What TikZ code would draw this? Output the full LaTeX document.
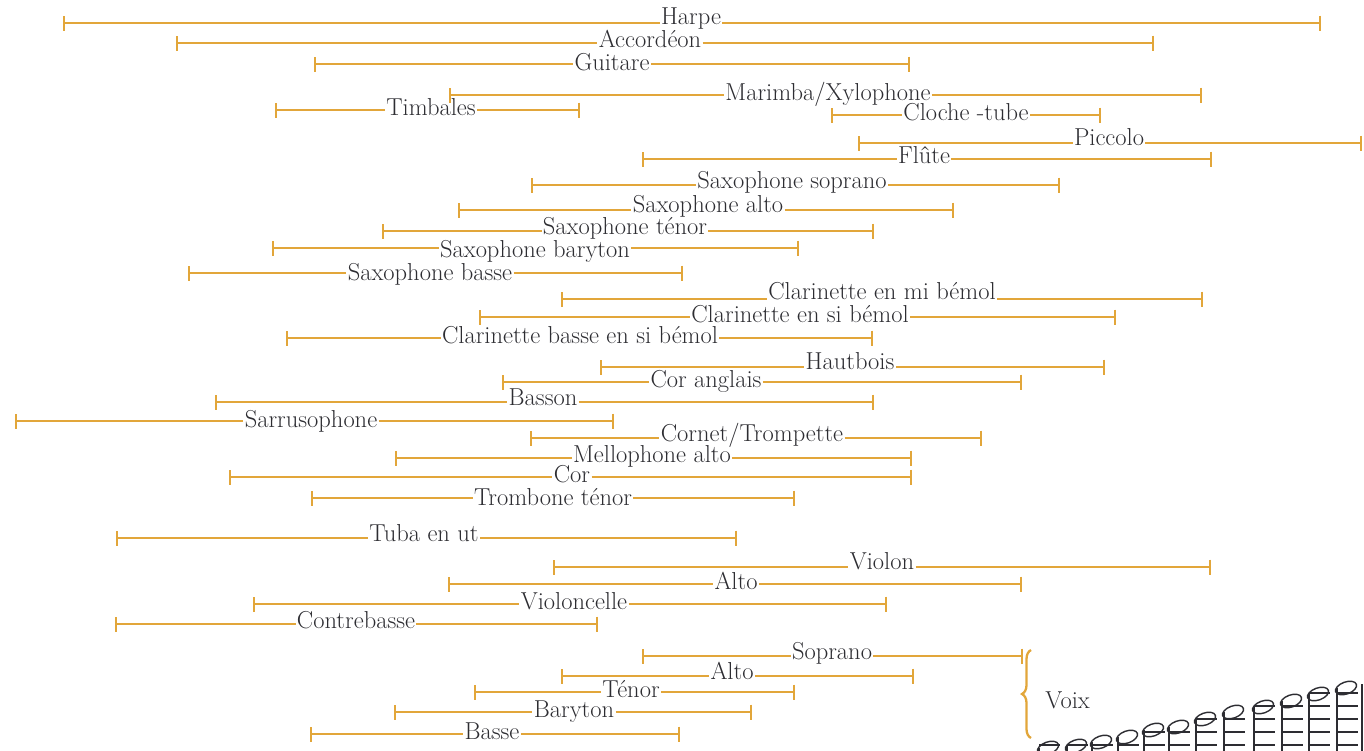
\documentclass[tikz,border=0pt]{standalone}
\usetikzlibrary{arrows.meta,decorations.pathreplacing}
\definecolor{gold}{RGB}{226,166,58}
\definecolor{ink}{RGB}{45,45,50}
\newcommand\rng[7]{%
  \coordinate (#1L) at (#3,#2);
  \coordinate (#1R) at (#4,#2);
  \node[lab] (#1) at (#5,#6) {#7};
  \draw[rng,{Bar[width=15pt,line width=2.2pt]}-] (#1L) -- (#1L -| #1.west);
  \draw[rng,-{Bar[width=15pt,line width=2.2pt]}] (#1R -| #1.east) -- (#1R);
}
\begin{document}
\begin{tikzpicture}[x=1pt,y=-1pt,
  lab/.style={font=\fontsize{24.5}{26}\selectfont, text=ink, inner xsep=1.2pt, inner ysep=0pt, anchor=base},
  rng/.style={draw=gold, line width=1.8pt}]
\useasboundingbox (0,0) rectangle (1364,750);
\rng{harpe}{23}{63}{1321}{691}{24}{Harpe}
\rng{acc}{43}{176}{1154}{650}{47}{Accordéon}
\rng{guit}{64}{314}{910}{612}{70}{Guitare}
\rng{mar}{95}{449}{1202}{828}{100}{Marimba/Xylophone}
\rng{timb}{110}{275}{580}{431}{115}{Timbales}
\rng{cloche}{115}{831}{1101}{966}{120}{Cloche -tube}
\rng{picc}{143}{858}{1362}{1109}{145}{Piccolo}
\rng{flute}{159}{642}{1212}{924}{163}{Flûte}
\rng{saxs}{185}{531}{1060}{792}{188}{Saxophone soprano}
\rng{saxa}{210}{458}{954}{708}{212}{Saxophone alto}
\rng{saxt}{231}{382}{874}{625}{234}{Saxophone ténor}
\rng{saxb}{248}{272}{799}{535}{257}{Saxophone baryton}
\rng{saxbs}{273}{188}{683}{430}{280}{Saxophone basse}
\rng{clmi}{299}{561}{1203}{882}{299}{Clarinette en mi bémol}
\rng{clsi}{317}{479}{1116}{800}{322}{Clarinette en si bémol}
\rng{clb}{338}{286}{873}{580}{343}{Clarinette basse en si bémol}
\rng{haut}{367}{600}{1105}{850}{369}{Hautbois}
\rng{cora}{382}{502}{1022}{706}{387}{Cor anglais}
\rng{bass}{402}{215}{874}{543}{405}{Basson}
\rng{sarr}{421}{15}{614}{311}{427}{Sarrusophone}
\rng{cornet}{438}{530}{982}{752}{441}{Cornet/Trompette}
\rng{mell}{458}{395}{912}{652}{462}{Mellophone alto}
\rng{cor}{477}{229}{912}{572}{482}{Cor}
\rng{tromb}{498}{311}{795}{553}{505}{Trombone ténor}
\rng{tuba}{538}{116}{737}{424}{541}{Tuba en ut}
\rng{violon}{567}{553}{1211}{882}{569}{Violon}
\rng{alto}{584}{448}{1022}{736}{589}{Alto}
\rng{vcelle}{604}{253}{887}{574}{609}{Violoncelle}
\rng{cb}{624}{115}{598}{356}{628}{Contrebasse}
\rng{sop}{656}{642}{1023}{832}{659}{Soprano}
\rng{valto}{676}{561}{914}{732}{679}{Alto}
\rng{ten}{692}{474}{795}{631}{697}{Ténor}
\rng{bar}{712}{394}{752}{574}{717}{Baryton}
\rng{basse}{734}{310}{680}{492}{739}{Basse}
% brace
\coordinate (bt) at (1031,650);
\coordinate (bb) at (1031,738);
\draw[gold, line width=2.3pt, decorate, decoration={brace, amplitude=9pt, mirror}] (bt) -- (bb);
\node[lab, anchor=west] (voix) at (1044,700) {Voix};
% notes
\begin{scope}[ink, line width=1.7pt]
\foreach \hx/\hy in {1048/748,1076/746,1101/742,1127/737,1153/730,1178/727,1205/719,1233/712,1263/707,1291/701,1318/694,1346/688}{
  \pgfmathsetmacro\sx{\hx-9}
  \draw (\sx,\hy) -- (\sx,752);
  \foreach \ly in {745,732,719,706,693}{
    \pgfmathparse{\ly>=\hy-3 ? 1 : 0}
    \ifnum\pgfmathresult=1 \draw (\sx,\ly) -- (\sx+21,\ly); \fi
  }
  \draw[line width=1.4pt, rotate around={20:(\hx,\hy)}] (\hx,\hy) ellipse [x radius=11pt, y radius=6pt];
}
\draw[line width=2.8pt] (1362,684) -- (1362,752);
\end{scope}
\end{tikzpicture}
\end{document}
